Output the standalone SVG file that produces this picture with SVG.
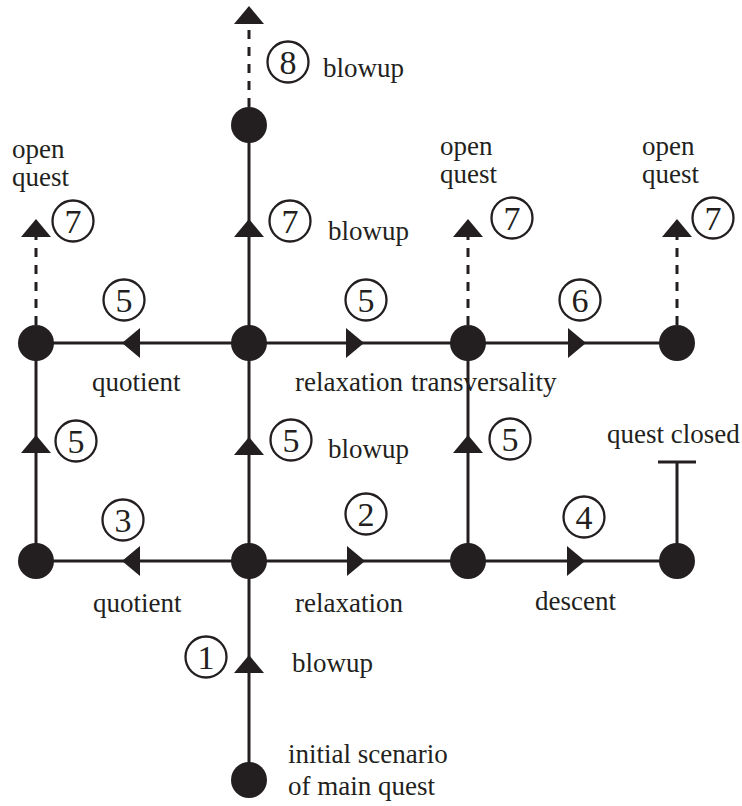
<svg xmlns="http://www.w3.org/2000/svg" width="742" height="806" viewBox="0 0 742 806">
<style>
.e{stroke:#231f20;stroke-width:3;fill:none}
.d{stroke:#231f20;stroke-width:3;fill:none;stroke-dasharray:9 8}
.n{fill:#231f20}
.c{fill:#fff;stroke:#231f20;stroke-width:2.3}
.num{font-size:34px;fill:#231f20;text-anchor:middle}
.t{font-size:27px;fill:#231f20}
</style>
<defs>
<path id="ah" d="M0,0 L-18,-15 L-18,15 Z" fill="#231f20"/>
</defs>
<rect width="742" height="806" fill="#fff"/>
<g id="connectors">
<line class="e" x1="249" y1="780" x2="249" y2="125"/>
<line class="e" x1="36" y1="561" x2="677" y2="561"/>
<line class="e" x1="36" y1="343" x2="677" y2="343"/>
<line class="e" x1="36" y1="561" x2="36" y2="343"/>
<line class="e" x1="468" y1="561" x2="468" y2="343"/>
<line class="e" x1="677" y1="561" x2="677" y2="462"/>
<line class="e" x1="658" y1="462" x2="696" y2="462"/>
<line class="d" x1="249" y1="107" x2="249" y2="24"/>
<line class="d" x1="36" y1="325" x2="36" y2="237"/>
<line class="d" x1="468" y1="325" x2="468" y2="237"/>
<line class="d" x1="677" y1="325" x2="677" y2="237"/>
<use href="#ah" transform="translate(249,655) rotate(-90)"/>
<use href="#ah" transform="translate(122,561) rotate(180)"/>
<use href="#ah" transform="translate(365,561)"/>
<use href="#ah" transform="translate(585,561)"/>
<use href="#ah" transform="translate(36,435) rotate(-90)"/>
<use href="#ah" transform="translate(249,437) rotate(-90)"/>
<use href="#ah" transform="translate(468,435) rotate(-90)"/>
<use href="#ah" transform="translate(122,343) rotate(180)"/>
<use href="#ah" transform="translate(364,343)"/>
<use href="#ah" transform="translate(586,343)"/>
<use href="#ah" transform="translate(249,219) rotate(-90)"/>
<use href="#ah" transform="translate(249,6) rotate(-90)"/>
<use href="#ah" transform="translate(36,219) rotate(-90)"/>
<use href="#ah" transform="translate(468,219) rotate(-90)"/>
<use href="#ah" transform="translate(677,219) rotate(-90)"/>
</g>
<g id="edge-labels" font-family="'Liberation Serif', 'Times New Roman', serif">
<circle class="c" cx="206" cy="657" r="20.5"/><text class="num" x="206" y="669">1</text>
<circle class="c" cx="366" cy="514" r="20.5"/><text class="num" x="366" y="526">2</text>
<circle class="c" cx="123" cy="520" r="20.5"/><text class="num" x="123" y="532">3</text>
<circle class="c" cx="584" cy="517" r="20.5"/><text class="num" x="584" y="529">4</text>
<circle class="c" cx="76" cy="441" r="20.5"/><text class="num" x="76" y="453">5</text>
<circle class="c" cx="291" cy="440" r="20.5"/><text class="num" x="291" y="452">5</text>
<circle class="c" cx="510" cy="439" r="20.5"/><text class="num" x="510" y="451">5</text>
<circle class="c" cx="124" cy="300" r="20.5"/><text class="num" x="124" y="312">5</text>
<circle class="c" cx="366" cy="300" r="20.5"/><text class="num" x="366" y="312">5</text>
<circle class="c" cx="580" cy="300" r="20.5"/><text class="num" x="580" y="312">6</text>
<circle class="c" cx="290" cy="221" r="20.5"/><text class="num" x="290" y="233">7</text>
<circle class="c" cx="73" cy="221" r="20.5"/><text class="num" x="73" y="233">7</text>
<circle class="c" cx="512" cy="218" r="20.5"/><text class="num" x="512" y="230">7</text>
<circle class="c" cx="713" cy="218" r="20.5"/><text class="num" x="713" y="230">7</text>
<circle class="c" cx="288" cy="62" r="20.5"/><text class="num" x="288" y="74">8</text>
<text class="t" x="292" y="672">blowup</text>
<text class="t" x="93" y="612">quotient</text>
<text class="t" x="295" y="612">relaxation</text>
<text class="t" x="535" y="610">descent</text>
<text class="t" x="607" y="443">quest closed</text>
<text class="t" x="328" y="458">blowup</text>
<text class="t" x="92" y="391">quotient</text>
<text class="t" x="295" y="391">relaxation</text>
<text class="t" x="411" y="391">transversality</text>
<text class="t" x="328" y="240">blowup</text>
<text class="t" x="323" y="77">blowup</text>
</g>
<g id="nodes" font-family="'Liberation Serif', 'Times New Roman', serif">
<g id="n-init"><circle class="n" cx="249" cy="780" r="18"/><text class="t" x="288" y="763">initial scenario</text><text class="t" x="288" y="795">of main quest</text></g>
<g id="n-b1"><circle class="n" cx="36" cy="561" r="18"/></g>
<g id="n-b2"><circle class="n" cx="249" cy="561" r="18"/></g>
<g id="n-b3"><circle class="n" cx="468" cy="561" r="18"/></g>
<g id="n-b4"><circle class="n" cx="677" cy="561" r="18"/></g>
<g id="n-t1"><circle class="n" cx="36" cy="343" r="18"/><text class="t" x="12" y="158">open</text><text class="t" x="12" y="186">quest</text></g>
<g id="n-t2"><circle class="n" cx="249" cy="343" r="18"/></g>
<g id="n-t3"><circle class="n" cx="468" cy="343" r="18"/><text class="t" x="440" y="155">open</text><text class="t" x="440" y="183">quest</text></g>
<g id="n-t4"><circle class="n" cx="677" cy="343" r="18"/><text class="t" x="642" y="155">open</text><text class="t" x="642" y="183">quest</text></g>
<g id="n-top"><circle class="n" cx="249" cy="125" r="18"/></g>
</g>
</svg>
